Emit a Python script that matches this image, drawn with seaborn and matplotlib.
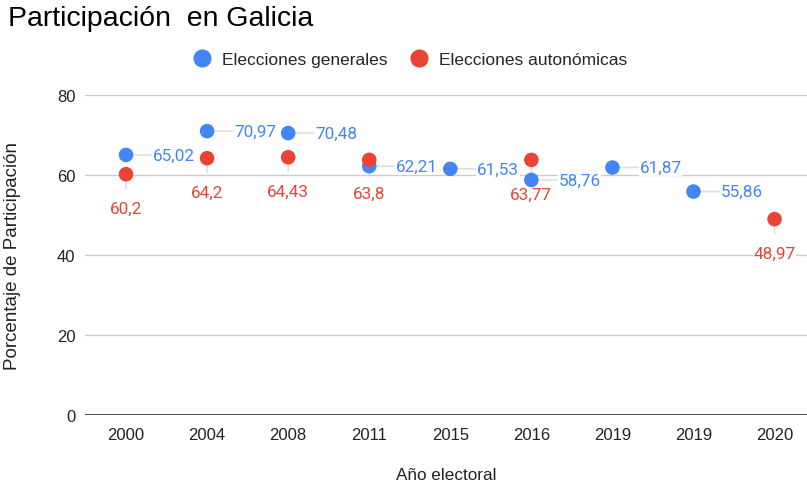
import numpy as np
import pandas as pd
import matplotlib
matplotlib.use("Agg")
import matplotlib.pyplot as plt
import seaborn as sns
from matplotlib.lines import Line2D

years = ["2000", "2004", "2008", "2011", "2015", "2016", "2019", "2019", "2020"]
generales = [65.02, 70.97, 70.48, 62.21, 61.53, 58.76, 61.87, 55.86, None]
autonomicas = [60.2, 64.2, 64.43, 63.8, None, 63.77, None, None, 48.97]
series_names = ["Elecciones generales", "Elecciones autonómicas"]
colors = ["#4285F4", "#EA4335"]

rows = []
for i, y in enumerate(years):
    if generales[i] is not None:
        rows.append({"pos": i, "valor": generales[i], "serie": series_names[0]})
    if autonomicas[i] is not None:
        rows.append({"pos": i, "valor": autonomicas[i], "serie": series_names[1]})
df = pd.DataFrame(rows)

sns.set_theme(style="white")
ARIAL = ["Liberation Sans", "DejaVu Sans"]
ROBOTO = ["Roboto", "DejaVu Sans"]
plt.rcParams["font.family"] = ARIAL

fig = plt.figure(figsize=(8.07, 4.85), dpi=100)
ax = fig.add_axes([85/807, 69/485, 722/807, 320/485])

sns.scatterplot(data=df, x="pos", y="valor", hue="serie", palette=colors,
                hue_order=series_names, s=110, edgecolor="none", ax=ax,
                legend=False, zorder=3)

def fmt(v):
    s = f"{v:.2f}".rstrip("0").rstrip(".")
    return s.replace(".", ",")

for i, v in enumerate(generales):
    if v is None:
        continue
    ax.annotate(fmt(v), xy=(i, v), xytext=(27, 0), textcoords="offset pixels",
                ha="left", va="center", fontsize=12.3, color=colors[0], family=ROBOTO,
                arrowprops=dict(arrowstyle="-", color="#e0e0e0", lw=1.2,
                                shrinkA=0, shrinkB=2),
                bbox=dict(boxstyle="square,pad=0.05", fc="white", ec="none"),
                zorder=2)
for i, v in enumerate(autonomicas):
    if v is None:
        continue
    ax.annotate(fmt(v), xy=(i, v), xytext=(0, -34), textcoords="offset pixels",
                ha="center", va="center", fontsize=12.3, color=colors[1], family=ROBOTO,
                arrowprops=dict(arrowstyle="-", color="#e0e0e0", lw=1.2,
                                shrinkA=8, shrinkB=0),
                bbox=dict(boxstyle="square,pad=0.05", fc="white", ec="none"),
                zorder=2)

ax.set_xlim(-0.506, 8.4)
ax.set_ylim(0, 80)
ax.set_yticks([0, 20, 40, 60, 80])
ax.set_xticks(range(len(years)))
ax.set_xticklabels(years)
ax.tick_params(axis="both", labelsize=12, colors="#222222", length=0)
ax.tick_params(axis="x", pad=9)
ax.tick_params(axis="y", pad=7)
ax.grid(axis="y", color="#cccccc", lw=1)
ax.set_axisbelow(True)
for sp in ax.spines.values():
    sp.set_visible(False)
ax.axhline(0, color="#333333", lw=1.2, zorder=1)

ax.set_xlabel("Año electoral", fontsize=12.3, color="#222222")
ax.xaxis.set_label_coords(0.5, -52/320)
ax.set_ylabel("Porcentaje de Participación", fontsize=13.5, color="#222222")
ax.yaxis.set_label_coords(-64/722, 0.5)

fig.text(8/807, 1 - 19/485, "Participación  en Galicia", fontsize=20.5,
         family=ARIAL, ha="left", va="center", color="#000000")

handles = [Line2D([], [], marker="o", ls="none", color=c, markersize=12) for c in colors]
fig.legend(handles, series_names, loc="center", bbox_to_anchor=(406/807, 1 - 60/485),
           ncol=2, frameon=False, handletextpad=0.15, columnspacing=0.8,
           prop={"family": ARIAL, "size": 12.5})

fig.savefig("out.png", dpi=100)
